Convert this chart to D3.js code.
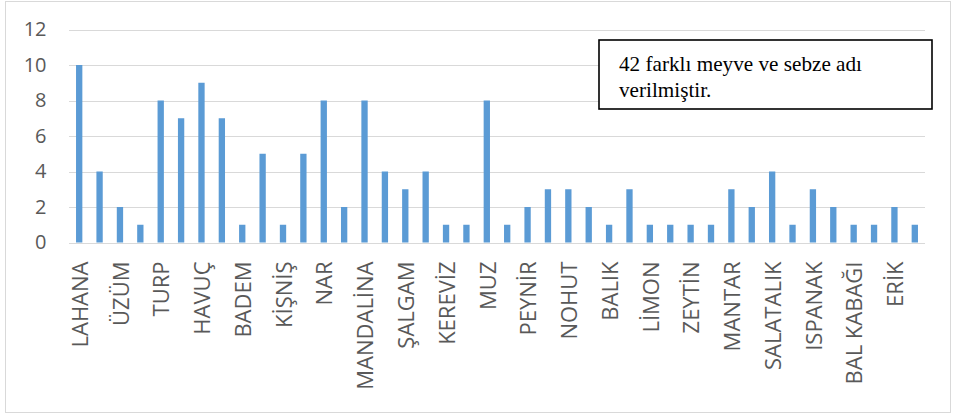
<!DOCTYPE html>
<html>
<head>
<meta charset="utf-8">
<script src="https://cdn.jsdelivr.net/npm/d3@7"></script>
<style>
body{margin:0;background:#fff;}
svg{display:block;}
</style>
</head>
<body>
<svg id="chart" width="954" height="419"></svg>
<script>
// Category labels (only every other label is shown in the original; hidden ones unknown)
const categories = ["LAHANA","","ÜZÜM","","TURP","","HAVUÇ","","BADEM","","KİŞNİŞ","","NAR","","MANDALİNA","","ŞALGAM","","KEREVİZ","",
  "MUZ","","PEYNİR","","NOHUT","","BALIK","","LİMON","","ZEYTİN","","MANTAR","","SALATALIK","","ISPANAK","","BAL KABAĞI","","ERİK",""];
const values = [10,4,2,1,8,7,9,7,1,5,1,5,8,2,8,4,3,4,1,1,
  8,1,2,3,3,2,1,3,1,1,1,1,3,2,4,1,3,2,1,1,2,1];
const yTicks = [0,2,4,6,8,10,12];
const noteLines = ["42 farklı meyve ve sebze adı","verilmiştir."];

const svg = d3.select("#chart");
const plot = {left:69, right:925, top:29.5, bottom:242.5};

// chart border
svg.append("rect").attr("x",5.5).attr("y",1.5).attr("width",945).attr("height",411)
  .attr("fill","#fff").attr("stroke","#d9d9d9").attr("stroke-width",1);

const idx = d3.range(values.length);
const x = d3.scaleBand().domain(idx).range([plot.left, plot.right]).paddingInner(0.69).paddingOuter(0.345);
const y = d3.scaleLinear().domain([0,12]).range([plot.bottom, plot.top]);

// gridlines
svg.append("g").selectAll("line").data(yTicks).join("line")
  .attr("x1",plot.left).attr("x2",plot.right)
  .attr("y1",d=>Math.round(y(d))+0.5).attr("y2",d=>Math.round(y(d))+0.5)
  .attr("stroke","#d9d9d9").attr("stroke-width",1);

// y axis labels
const yAxis = d3.axisLeft(y).tickValues(yTicks).tickSize(0).tickPadding(0);
const ya = svg.append("g").attr("transform",`translate(46.5,0)`).call(yAxis);
ya.select(".domain").remove();
ya.selectAll("text").attr("font-family","'Open Sans', sans-serif").attr("font-size",20).attr("fill","#595959");

// bars
svg.append("g").selectAll("rect").data(values).join("rect")
  .attr("x",(d,i)=>x(i)).attr("width",x.bandwidth())
  .attr("y",d=>y(d)).attr("height",d=>y(0)-y(d))
  .attr("fill","#5b9bd5");

// x axis labels
const xAxis = d3.axisBottom(x).tickSize(0).tickFormat(i=>categories[i]);
const xa = svg.append("g").attr("transform",`translate(0,${plot.bottom})`).call(xAxis);
xa.select(".domain").remove();
xa.selectAll("text")
  .attr("font-family","'Open Sans', sans-serif").attr("font-size",22).attr("fill","#595959")
  .attr("transform","rotate(-90)")
  .attr("text-anchor","end")
  .attr("x",-19).attr("y",1).attr("dy","0.35em");

// annotation box
const bx = 599, by = 40, bw = 333, bh = 69;
svg.append("rect").attr("x",bx).attr("y",by).attr("width",bw).attr("height",bh)
  .attr("fill","#fff").attr("stroke","#000").attr("stroke-width",1.6);
svg.append("g").selectAll("text").data(noteLines).join("text")
  .attr("x",619).attr("y",(d,i)=>71+i*26)
  .attr("font-family","'Liberation Serif','Times New Roman',serif").attr("font-size",21.2).attr("fill","#000")
  .text(d=>d);
</script>
</body>
</html>
